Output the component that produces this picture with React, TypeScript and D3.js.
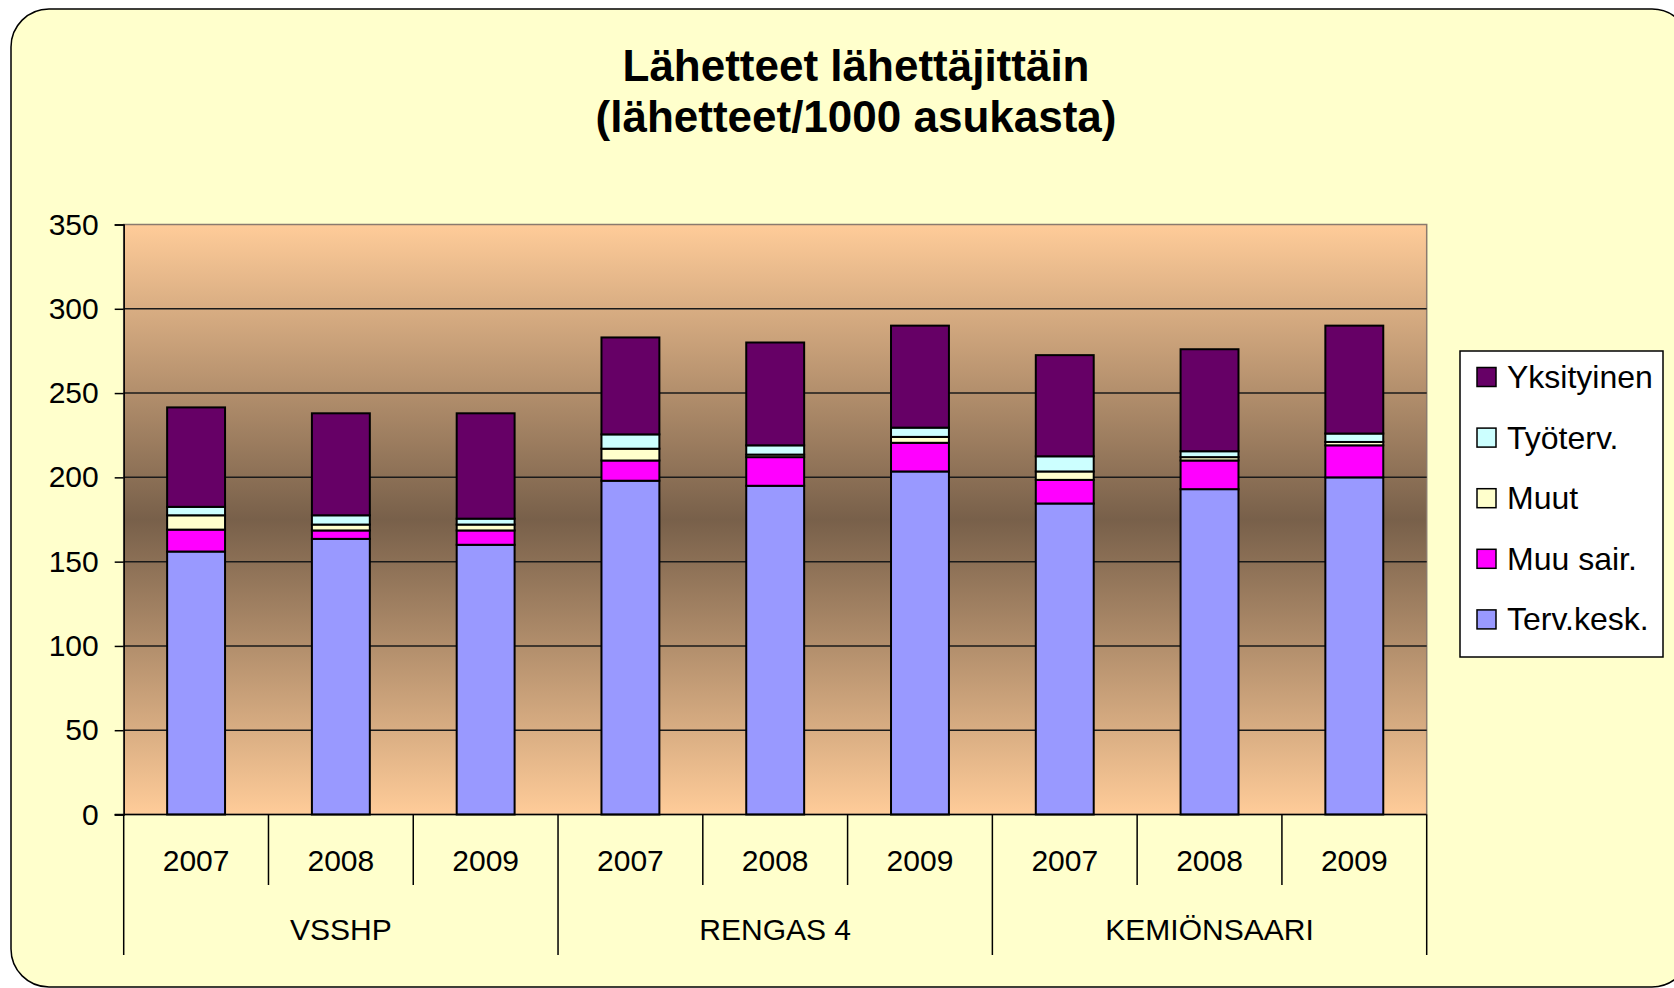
import * as d3 from "d3";
import { useEffect, useRef } from "react";

// categories
const groups = ["VSSHP", "RENGAS 4", "KEMIÖNSAARI"];
const years = ["2007", "2008", "2009"];

// series, bottom to top, one value per bar (group x year)
const tervKesk = [156, 163.5, 160, 198, 195, 203.5, 184.5, 193, 200];
const muuSair = [13, 5, 8.5, 12, 17, 17, 14, 17, 19];
const muut = [8.5, 3.5, 3.5, 7, 1.5, 3.5, 5, 2, 2];
const tyoterv = [5, 5.5, 3.5, 8.5, 5.5, 5.5, 9, 3.5, 5];
const yksityinen = [59, 60.5, 62.5, 57.5, 61, 60.5, 60, 60.5, 64];

const seriesNames = ["Terv.kesk.", "Muu sair.", "Muut", "Työterv.", "Yksityinen"];
const seriesColors = ["#9999FF", "#FF00FF", "#FFFFCC", "#CCFFFF", "#660066"];
const yTicks = [0, 50, 100, 150, 200, 250, 300, 350];

const FONT = "'Liberation Sans', Arial, sans-serif";

function App() {
  const ref = useRef(null);
  const width = 1674;
  const height = 988;

  useEffect(() => {
    const svg = d3.select(ref.current);
    svg.selectAll("*").remove();

    const left = 123.7;
    const right = 1426.7;
    const top = 224.5;
    const bottom = 814.5;

    // outer frame
    svg
      .append("rect")
      .attr("x", 11)
      .attr("y", 9)
      .attr("width", 1679)
      .attr("height", 978)
      .attr("rx", 38)
      .attr("fill", "#FFFFCC")
      .attr("stroke", "#000")
      .attr("stroke-width", 1.5);

    // title, two lines
    svg
      .append("text")
      .attr("x", 856)
      .attr("y", 81)
      .attr("text-anchor", "middle")
      .attr("font-family", FONT)
      .attr("font-weight", "bold")
      .attr("font-size", 44)
      .attr("fill", "#000")
      .text("Lähetteet lähettäjittäin");
    svg
      .append("text")
      .attr("x", 856)
      .attr("y", 132)
      .attr("text-anchor", "middle")
      .attr("font-family", FONT)
      .attr("font-weight", "bold")
      .attr("font-size", 44)
      .attr("fill", "#000")
      .text("(lähetteet/1000 asukasta)");

    const rows = tervKesk.map((_, i) => ({
      key: groups[Math.floor(i / 3)] + "|" + years[i % 3],
      year: years[i % 3],
      "Terv.kesk.": tervKesk[i],
      "Muu sair.": muuSair[i],
      Muut: muut[i],
      "Työterv.": tyoterv[i],
      Yksityinen: yksityinen[i],
    }));

    const x = d3
      .scaleBand()
      .domain(rows.map((d) => d.key))
      .range([left, right])
      .paddingInner(0.6)
      .paddingOuter(0.3);
    const step = x.step();

    const y = d3.scaleLinear().domain([0, 350]).range([bottom, top]);

    // plot background gradient
    const defs = svg.append("defs");
    const grad = defs
      .append("linearGradient")
      .attr("id", "plotbg")
      .attr("x1", 0)
      .attr("y1", 0)
      .attr("x2", 0)
      .attr("y2", 1);
    grad.append("stop").attr("offset", "0%").attr("stop-color", "#FFCC99");
    grad.append("stop").attr("offset", "50%").attr("stop-color", "#78604A");
    grad.append("stop").attr("offset", "100%").attr("stop-color", "#FFCC99");

    svg
      .append("rect")
      .attr("x", left)
      .attr("y", top)
      .attr("width", right - left)
      .attr("height", bottom - top)
      .attr("fill", "url(#plotbg)")
      .attr("stroke", "#8a7a6e")
      .attr("stroke-width", 1.5);

    // gridlines
    svg
      .append("g")
      .selectAll("line")
      .data(yTicks.filter((t) => t > 0 && t < 350))
      .join("line")
      .attr("x1", left)
      .attr("x2", right)
      .attr("y1", (d) => y(d))
      .attr("y2", (d) => y(d))
      .attr("stroke", "#1a1a1a")
      .attr("stroke-width", 1.5);

    // y axis
    const yAxis = svg
      .append("g")
      .attr("transform", `translate(${left},0)`)
      .call(d3.axisLeft(y).tickValues(yTicks).tickSize(9).tickPadding(16));
    yAxis.select(".domain").attr("stroke", "#000").attr("stroke-width", 1.5);
    yAxis.selectAll(".tick line").attr("stroke", "#000").attr("stroke-width", 1.5);
    yAxis
      .selectAll(".tick text")
      .attr("font-family", FONT)
      .attr("font-size", 30)
      .attr("fill", "#000");

    // stacked bars
    const stack = d3.stack().keys(seriesNames)(rows);
    svg
      .append("g")
      .selectAll("g")
      .data(stack)
      .join("g")
      .attr("fill", (_, i) => seriesColors[i])
      .selectAll("rect")
      .data((d) => d)
      .join("rect")
      .attr("x", (d) => x(d.data.key))
      .attr("y", (d) => y(d[1]))
      .attr("width", x.bandwidth())
      .attr("height", (d) => y(d[0]) - y(d[1]))
      .attr("stroke", "#000")
      .attr("stroke-width", 2);

    // category axis
    const cat = svg.append("g");
    cat
      .append("line")
      .attr("x1", left - 9)
      .attr("x2", right)
      .attr("y1", bottom)
      .attr("y2", bottom)
      .attr("stroke", "#000")
      .attr("stroke-width", 1.5);

    const bounds = d3.range(rows.length + 1);
    cat
      .selectAll("line.sep")
      .data(bounds)
      .join("line")
      .attr("class", "sep")
      .attr("x1", (i) => left + i * step)
      .attr("x2", (i) => left + i * step)
      .attr("y1", bottom)
      .attr("y2", (i) => (i % 3 === 0 ? 955 : 885))
      .attr("stroke", "#000")
      .attr("stroke-width", 1.5);

    cat
      .selectAll("text.year")
      .data(rows)
      .join("text")
      .attr("class", "year")
      .attr("x", (d) => x(d.key) + x.bandwidth() / 2)
      .attr("y", 871)
      .attr("text-anchor", "middle")
      .attr("font-family", FONT)
      .attr("font-size", 30)
      .attr("fill", "#000")
      .text((d) => d.year);

    cat
      .selectAll("text.group")
      .data(groups)
      .join("text")
      .attr("class", "group")
      .attr("x", (_, i) => left + (i * 3 + 1.5) * step)
      .attr("y", 940)
      .attr("text-anchor", "middle")
      .attr("font-family", FONT)
      .attr("font-size", 30)
      .attr("fill", "#000")
      .text((d) => d);

    // legend (top entry = top of stack)
    const legend = svg.append("g");
    legend
      .append("rect")
      .attr("x", 1460)
      .attr("y", 351)
      .attr("width", 203)
      .attr("height", 306)
      .attr("fill", "#fff")
      .attr("stroke", "#000")
      .attr("stroke-width", 1.5);

    const legendItems = seriesNames.map((n, i) => ({ name: n, color: seriesColors[i] })).reverse();
    const item = legend
      .selectAll("g.item")
      .data(legendItems)
      .join("g")
      .attr("class", "item")
      .attr("transform", (_, i) => `translate(1477,${377 + i * 60.6})`);
    item
      .append("rect")
      .attr("x", 0)
      .attr("y", -9.5)
      .attr("width", 19)
      .attr("height", 19)
      .attr("fill", (d) => d.color)
      .attr("stroke", "#000")
      .attr("stroke-width", 1.5);
    item
      .append("text")
      .attr("x", 30)
      .attr("y", 11)
      .attr("font-family", FONT)
      .attr("font-size", 32)
      .attr("fill", "#000")
      .text((d) => d.name);
  }, []);

  return (
    <div style={{ position: "absolute", left: 0, top: 0 }}>
      <svg ref={ref} width={width} height={height} style={{ display: "block", background: "#fff" }} />
    </div>
  );
}

export default App;
